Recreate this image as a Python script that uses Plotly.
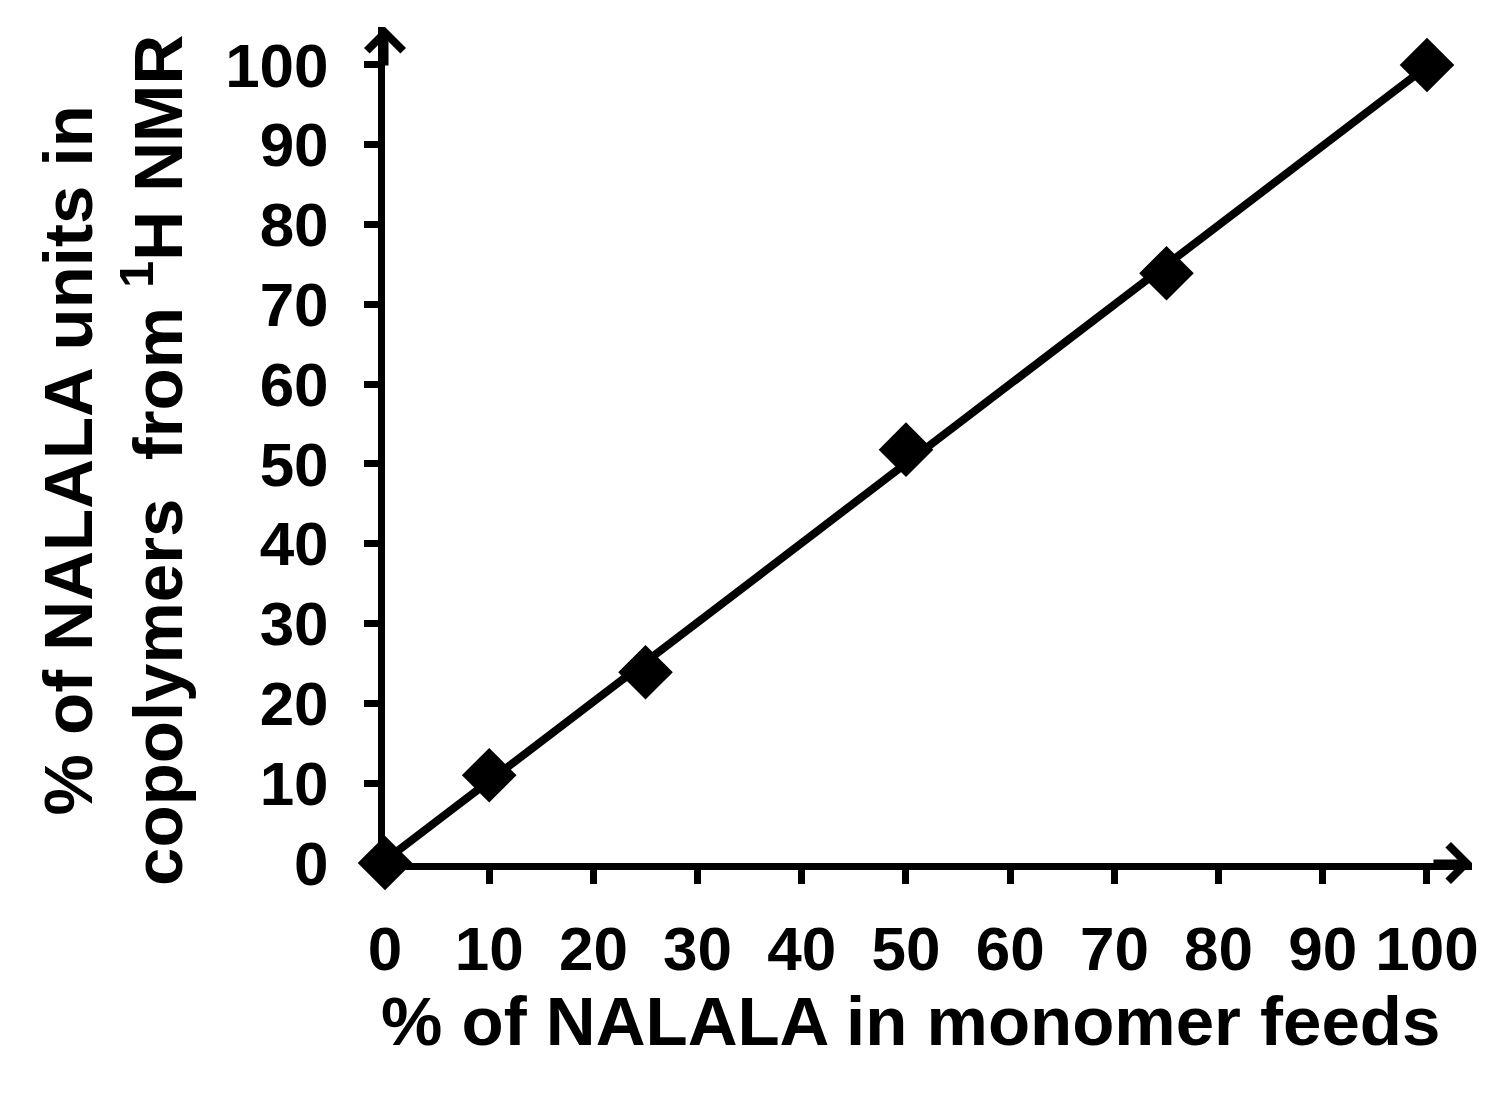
import numpy as np
import plotly.graph_objects as go

# ---- data ----
feed_pct = [0, 10, 25, 50, 75, 100]          # % of NALALA in monomer feeds
nmr_pct = [0, 11.0, 23.9, 51.8, 73.9, 100]    # % of NALALA units in copolymers (1H NMR)
x_tickvals = [0, 10, 20, 30, 40, 50, 60, 70, 80, 90, 100]
y_tickvals = [0, 10, 20, 30, 40, 50, 60, 70, 80, 90, 100]
x_title = "% of NALALA in monomer feeds"
y_title = "% of NALALA units in<br>copolymers\u00a0 from <sup>1</sup>H NMR"

# linear trendline from the data
slope, intercept = np.polyfit(feed_pct, nmr_pct, 1)
fit_x = [min(feed_pct), max(feed_pct)]
fit_y = [slope * v + intercept for v in fit_x]

FONT = "Liberation Sans, Arial, sans-serif"
W, H = 1493, 1086   # page body has an 8px margin

fig = go.Figure()
fig.add_trace(go.Scatter(
    x=fit_x, y=fit_y, mode="lines",
    line=dict(color="black", width=8),
    cliponaxis=False, showlegend=False, hoverinfo="skip"))
fig.add_trace(go.Scatter(
    x=feed_pct, y=nmr_pct, mode="markers",
    marker=dict(symbol="diamond", size=42, color="black"),
    cliponaxis=False, showlegend=False))

axis_common = dict(
    showgrid=False, zeroline=False, showline=True, linecolor="black", linewidth=7,
    ticks="outside", ticklen=14, tickwidth=7, tickcolor="black",
    tickfont=dict(family=FONT, size=62, color="black", weight="bold"),
)

title_font = dict(family=FONT, size=69, color="black", weight="bold")

fig.update_layout(
    width=W, height=H,
    paper_bgcolor="white", plot_bgcolor="white",
    margin=dict(l=377, r=29, t=19, b=231),
    xaxis=dict(range=[0, 104.32], tickvals=x_tickvals, ticklabelstandoff=12,
               **axis_common),
    yaxis=dict(range=[0, 104.76], tickvals=y_tickvals, ticklabelstandoff=23,
               **axis_common),
    annotations=[
        dict(x=0.483, y=-0.19, xref="paper", yref="paper", text=x_title,
             showarrow=False, xanchor="center", yanchor="middle", font=title_font),
        dict(x=-0.2493, y=0.481, xref="paper", yref="paper", text=y_title,
             textangle=-90, showarrow=False, xanchor="center", yanchor="middle",
             font=title_font),
        dict(x=1, y=0, xref="paper", yref="paper", ax=-40, ay=0,
             axref="pixel", ayref="pixel", text="", showarrow=True,
             arrowhead=4, arrowwidth=7, arrowsize=1.0, arrowcolor="black"),
        dict(x=0, y=1, xref="paper", yref="paper", ax=0, ay=40,
             axref="pixel", ayref="pixel", text="", showarrow=True,
             arrowhead=4, arrowwidth=7, arrowsize=1.0, arrowcolor="black"),
    ],
)

fig.write_html("out.html")
